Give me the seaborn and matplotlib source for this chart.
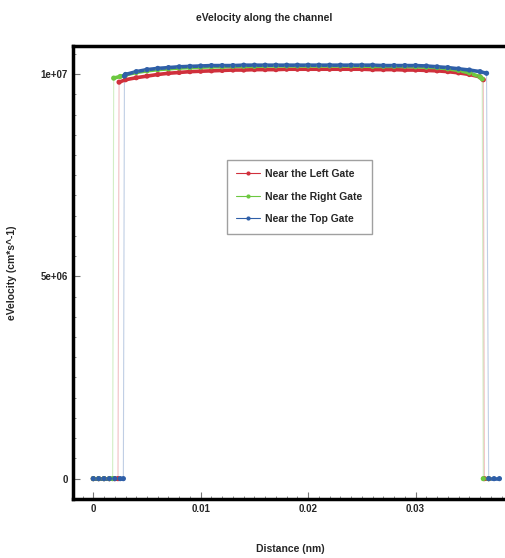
import matplotlib
matplotlib.use("Agg")
import matplotlib.pyplot as plt
from matplotlib.lines import Line2D
from matplotlib.ticker import FuncFormatter, MultipleLocator
import seaborn as sns
import pandas as pd

# ---- data (velocity in units of 1e7 cm/s) ----
channel_x = [0.003, 0.004, 0.005, 0.006, 0.007, 0.008, 0.009, 0.010, 0.011, 0.012,
             0.013, 0.014, 0.015, 0.016, 0.017, 0.018, 0.019, 0.020, 0.021, 0.022,
             0.023, 0.024, 0.025, 0.026, 0.027, 0.028, 0.029, 0.030, 0.031, 0.032,
             0.033, 0.034, 0.035]

left_pre_x = [0.0, 0.0005, 0.001, 0.0015, 0.002, 0.0023, 0.0024]
left_pre_v = [0, 0, 0, 0, 0, 0, 0.980]
left_ch_v = [0.986, 0.991, 0.995, 0.999, 1.002, 1.004, 1.006, 1.007, 1.008, 1.009,
             1.010, 1.010, 1.011, 1.011, 1.011, 1.012, 1.012, 1.012, 1.012, 1.012,
             1.012, 1.012, 1.012, 1.011, 1.011, 1.011, 1.010, 1.010, 1.009, 1.008,
             1.006, 1.003, 0.999]
left_post_x = [0.036, 0.0363, 0.0364, 0.0368]
left_post_v = [0.993, 0.986, 0, 0]

right_pre_x = [0.0, 0.0005, 0.001, 0.0015, 0.0018, 0.0019, 0.0025]
right_pre_v = [0, 0, 0, 0, 0, 0.990, 0.994]
right_ch_v = [0.998, 1.004, 1.008, 1.011, 1.013, 1.015, 1.016, 1.017, 1.018, 1.018,
              1.019, 1.019, 1.019, 1.020, 1.020, 1.020, 1.020, 1.020, 1.020, 1.020,
              1.020, 1.020, 1.020, 1.019, 1.019, 1.019, 1.019, 1.018, 1.017, 1.016,
              1.013, 1.009, 1.003]
right_post_x = [0.036, 0.0362, 0.0363, 0.0368]
right_post_v = [0.993, 0.988, 0, 0]

top_pre_x = [0.0, 0.0005, 0.001, 0.0015, 0.002, 0.0025, 0.0028, 0.0029]
top_pre_v = [0, 0, 0, 0, 0, 0, 0, 0.995]
top_ch_v = [0.999, 1.006, 1.011, 1.014, 1.016, 1.018, 1.019, 1.020, 1.021, 1.021,
            1.021, 1.022, 1.022, 1.022, 1.022, 1.022, 1.022, 1.022, 1.022, 1.022,
            1.022, 1.022, 1.022, 1.022, 1.021, 1.021, 1.021, 1.021, 1.020, 1.018,
            1.016, 1.013, 1.010]
top_post_x = [0.036, 0.0366, 0.0368, 0.0373, 0.0378]
top_post_v = [1.006, 1.002, 0, 0, 0]

series_names = ["Near the Left Gate", "Near the Right Gate", "Near the Top Gate"]
colors = ["#d0303c", "#6cc840", "#2f5fa8"]

rows = []
parts = [
    (left_pre_x, left_pre_v, left_ch_v, left_post_x, left_post_v),
    (right_pre_x, right_pre_v, right_ch_v, right_post_x, right_post_v),
    (top_pre_x, top_pre_v, top_ch_v, top_post_x, top_post_v),
]
for name, (px, pv, cv, qx, qv) in zip(series_names, parts):
    order = 0
    for x, v in zip(px, pv):
        rows.append({"series": name, "x": x, "v": v * 1e7, "order": order,
                     "seg": name + ("|pre" if v == 0 else "|mid")})
        order += 1
    for x, v in zip(channel_x, cv):
        rows.append({"series": name, "x": x, "v": v * 1e7, "order": order,
                     "seg": name + "|mid"})
        order += 1
    for x, v in zip(qx, qv):
        rows.append({"series": name, "x": x, "v": v * 1e7, "order": order,
                     "seg": name + ("|post" if v == 0 else "|mid")})
        order += 1
df = pd.DataFrame(rows)

sns.set_style("white")
plt.rcParams["font.family"] = ["Liberation Sans Narrow", "Liberation Sans", "DejaVu Sans"]
plt.rcParams["font.weight"] = "bold"
plt.rcParams["axes.titleweight"] = "bold"
plt.rcParams["axes.labelweight"] = "bold"

fig = plt.figure(figsize=(5.06, 5.58), dpi=100)
ax = fig.add_axes([0.144, 0.106, 0.86, 0.812])

palette = dict(zip(series_names, colors))
# thin connecting lines (the faint verticals)
sns.lineplot(data=df, x="x", y="v", hue="series", palette=palette, sort=False,
             estimator=None, units="series", linewidth=0.8, alpha=0.3,
             legend=False, ax=ax)
# thick bands on each flat segment
sns.lineplot(data=df, x="x", y="v", hue="series", palette=palette, sort=False,
             estimator=None, units="seg", linewidth=2.6,
             legend=False, ax=ax, zorder=3)
sns.scatterplot(data=df, x="x", y="v", hue="series", palette=palette, s=14,
                linewidth=0, legend=False, ax=ax, zorder=4)

ax.set_xlim(-0.0019, 0.0386)
ax.set_ylim(-5e5, 1.07e7)
ax.set_xticks([0, 0.01, 0.02, 0.03])
ax.set_yticks([0, 5e6, 1e7])
ax.xaxis.set_minor_locator(MultipleLocator(0.001))
ax.yaxis.set_minor_locator(MultipleLocator(5e5))


def yfmt(v, pos):
    if v == 0:
        return "0"
    return "%.0e" % v


def xfmt(v, pos):
    if abs(v) < 1e-12:
        return "0"
    return "%g" % round(v, 4)


ax.yaxis.set_major_formatter(FuncFormatter(yfmt))
ax.xaxis.set_major_formatter(FuncFormatter(xfmt))
ax.tick_params(which="both", direction="in", bottom=True, left=True, top=False, right=False,
               labelsize=7, color="#777777")
ax.tick_params(which="major", length=5, width=0.8)
ax.tick_params(which="minor", length=2.5, width=0.6)

for side in ["left", "bottom", "top", "right"]:
    ax.spines[side].set_linewidth(2.5)
    ax.spines[side].set_color("black")

ax.set_title("eVelocity along the channel", fontsize=7.5, pad=18, x=0.439)
ax.set_xlabel("Distance (nm)", fontsize=7.5, labelpad=22)
ax.set_ylabel("eVelocity (cm*s^-1)", fontsize=7.5, labelpad=17)

handles = [Line2D([0], [0], color=c, linewidth=0.8, marker="o", markersize=3,
                  markeredgewidth=0) for c in colors]
leg = ax.legend(handles, series_names, loc="center", bbox_to_anchor=(0.52, 0.667),
                fontsize=7.5, frameon=True, fancybox=False, edgecolor="#888888",
                handlelength=2.3, labelspacing=1.2, borderpad=0.9, handletextpad=0.5)
leg.get_frame().set_linewidth(1.0)

fig.savefig("out.png", dpi=100)
